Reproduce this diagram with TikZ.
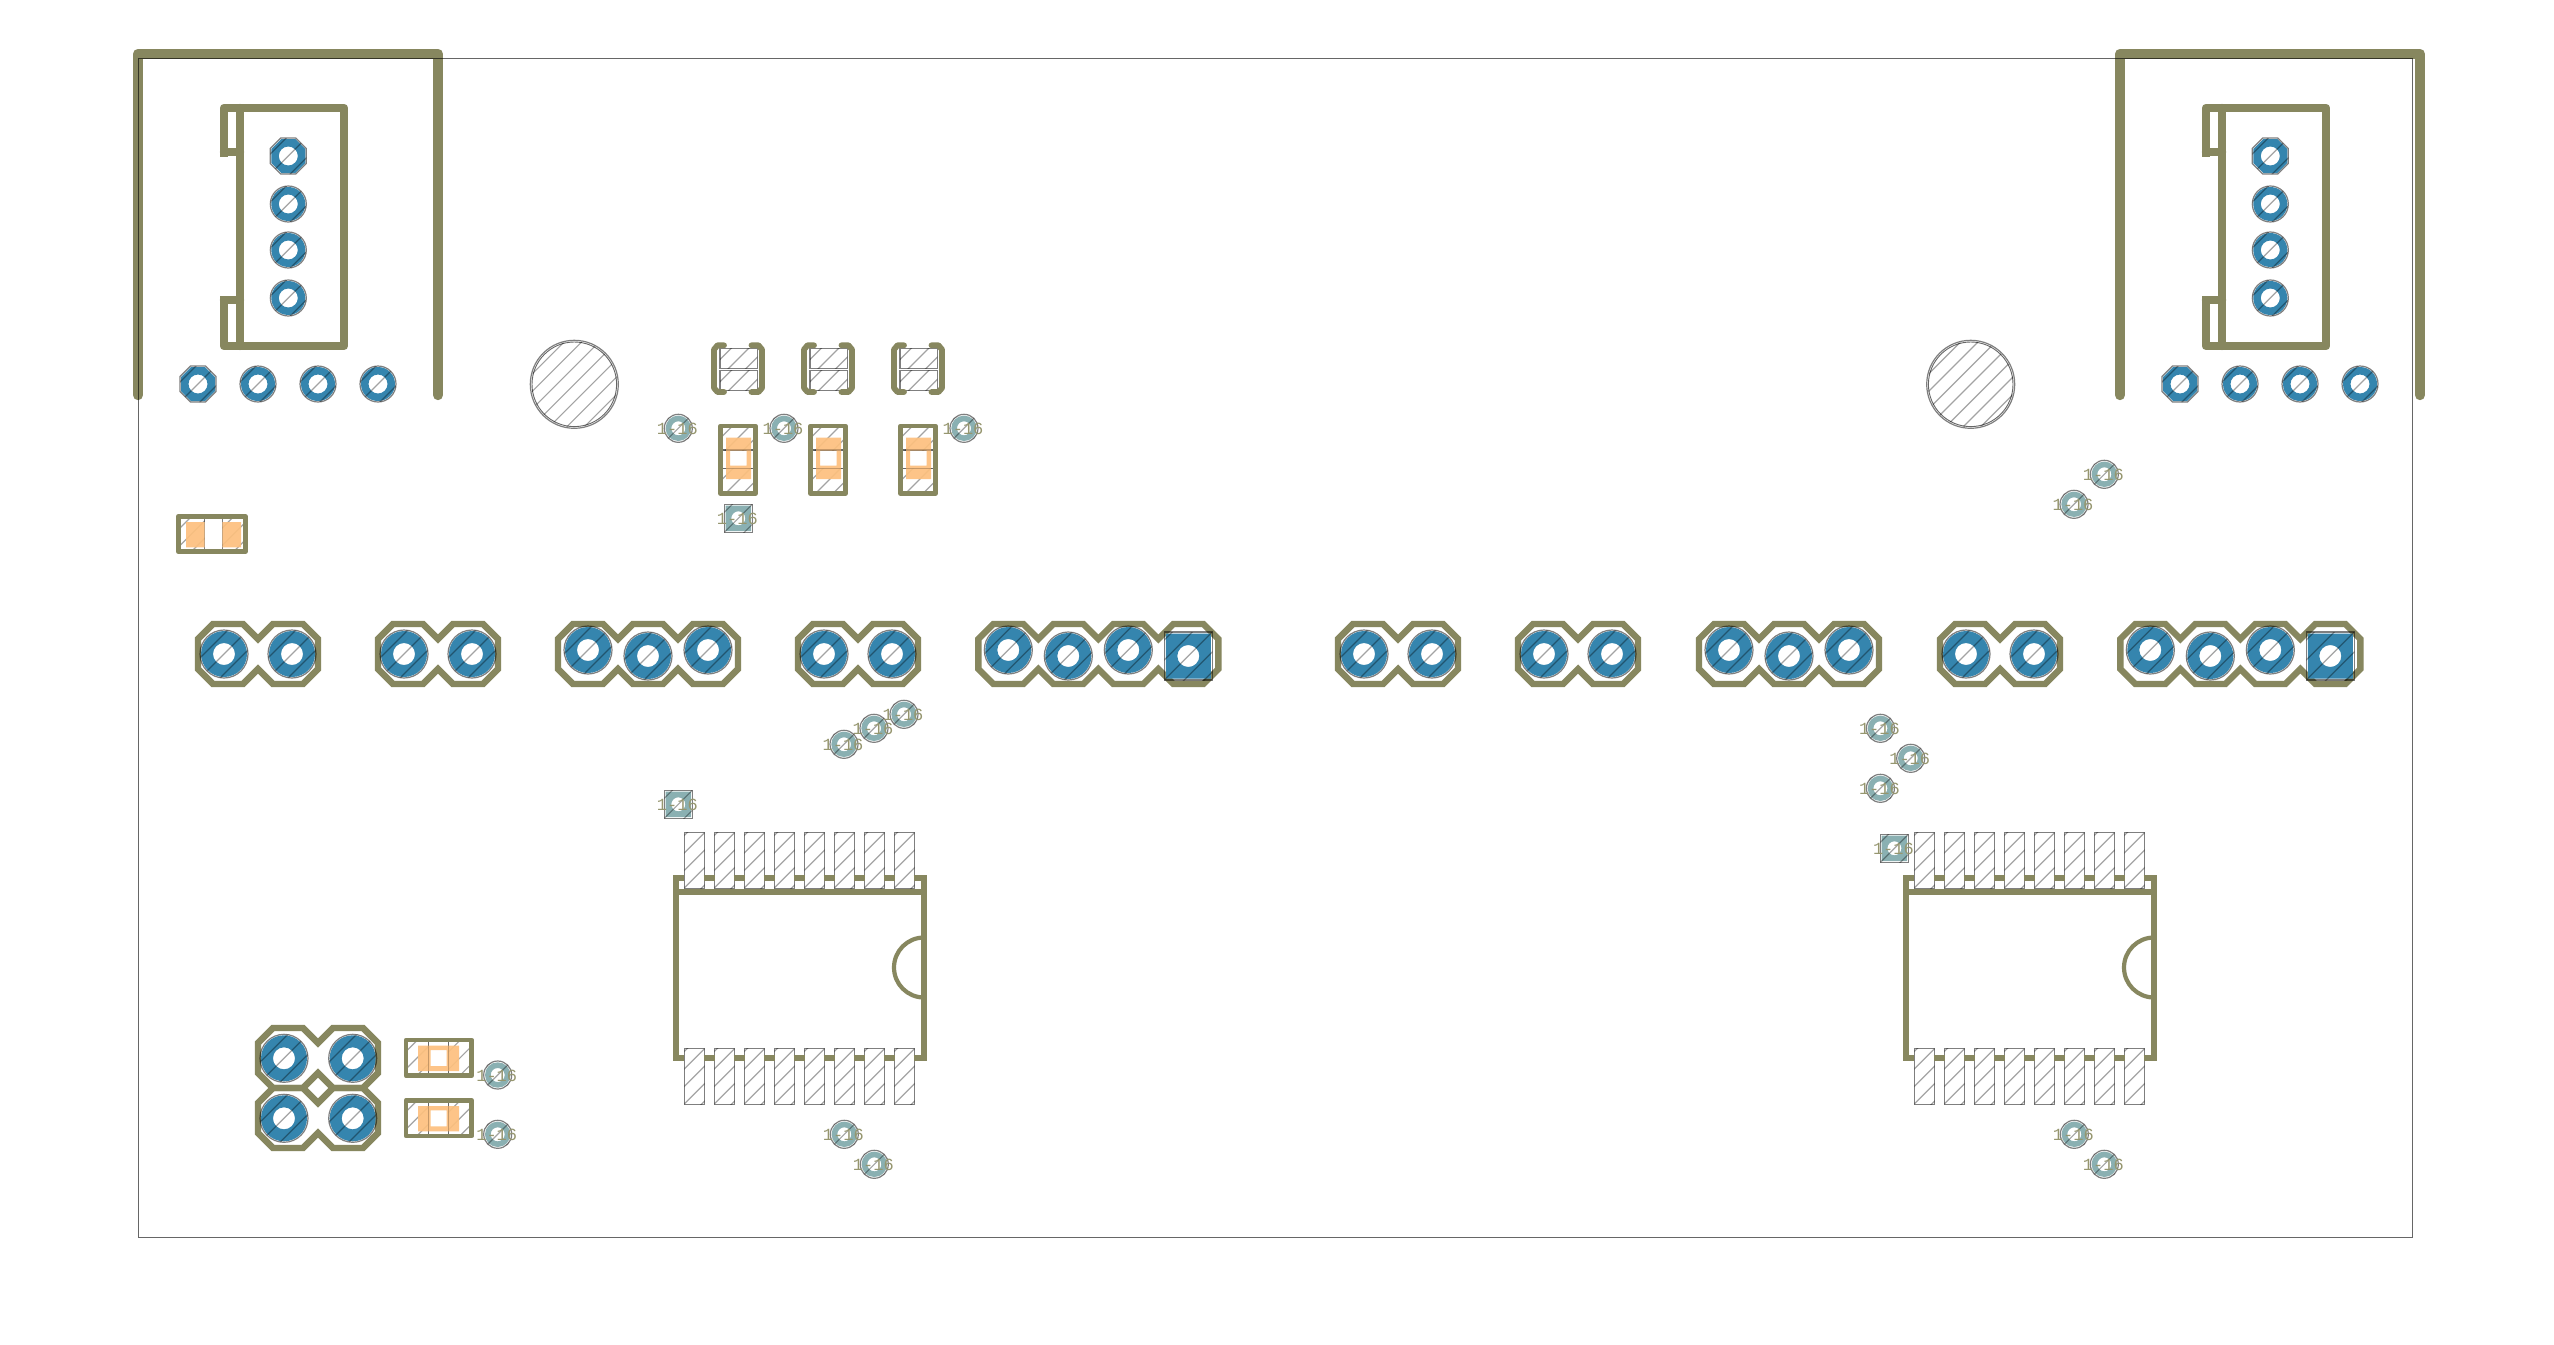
\documentclass[tikz,border=0pt]{standalone}
\usepackage{fontspec}
\newfontfamily\lblfont{Liberation Mono}
\definecolor{silk}{HTML}{87875F}
\definecolor{silktext}{HTML}{96966F}
\definecolor{padblue}{HTML}{3585AE}
\definecolor{viateal}{HTML}{8AB0B2}
\definecolor{smdorange}{HTML}{FDC07E}
\tikzset{
  silkline/.style={draw=silk,line width=#1,line cap=round,line join=round},
  silkline/.default=6,
  hatchline/.style={draw=black,draw opacity=.36,line width=1.2},
  padedge/.style={draw=black,draw opacity=.5,line width=1.2},
  boardedge/.style={draw=black,draw opacity=.6,line width=1.3},
  lbl/.style={inner sep=0pt,text=silktext,font=\lblfont\fontsize{17}{17}\selectfont}
}
\def\hs{20}
% hatch lines through a centre, N lines each side
\newcommand{\hatchat}[3]{%
  \foreach \k in {-#3,...,#3}{%
    \draw[hatchline] ({#1+\k*\hs-20*#3-20},{#2+20*#3+20}) -- ({#1+\k*\hs+20*#3+20},{#2-20*#3-20});
  }}
% round pad: x y grayR fillR holeR colour N
\newcommand{\roundpad}[7]{%
  \fill[#6,even odd rule] (#1,#2) circle[radius=#4] (#1,#2) circle[radius=#5];
  \begin{scope}\clip (#1,#2) circle[radius=#3]; \hatchat{#1}{#2}{#7}\end{scope}
  \draw[padedge] (#1,#2) circle[radius=#3];}
% square pad: x y grayHalf fillHalf holeR colour N
\newcommand{\squarepad}[7]{%
  \fill[#6,even odd rule] ({#1-#4},{#2-#4}) rectangle ({#1+#4},{#2+#4}) (#1,#2) circle[radius=#5];
  \begin{scope}\clip ({#1-#3},{#2-#3}) rectangle ({#1+#3},{#2+#3}); \hatchat{#1}{#2}{#7}\end{scope}
  \draw[padedge] ({#1-#3},{#2-#3}) rectangle ({#1+#3},{#2+#3});}
% octagonal connector pad
\newcommand{\octpad}[2]{%
  \fill[padblue,even odd rule] ({#1-17},{#2-7}) -- ({#1-7},{#2-17}) -- ({#1+7},{#2-17}) -- ({#1+17},{#2-7}) -- ({#1+17},{#2+7}) -- ({#1+7},{#2+17}) -- ({#1-7},{#2+17}) -- ({#1-17},{#2+7}) -- cycle (#1,#2) circle[radius=9.5];
  \begin{scope}\clip ({#1-18},{#2-7.5}) -- ({#1-7.5},{#2-18}) -- ({#1+7.5},{#2-18}) -- ({#1+18},{#2-7.5}) -- ({#1+18},{#2+7.5}) -- ({#1+7.5},{#2+18}) -- ({#1-7.5},{#2+18}) -- ({#1-18},{#2+7.5}) -- cycle; \hatchat{#1}{#2}{2}\end{scope}
  \draw[padedge] ({#1-18},{#2-7.5}) -- ({#1-7.5},{#2-18}) -- ({#1+7.5},{#2-18}) -- ({#1+18},{#2-7.5}) -- ({#1+18},{#2+7.5}) -- ({#1+7.5},{#2+18}) -- ({#1-7.5},{#2+18}) -- ({#1-18},{#2+7.5}) -- cycle;}
\newcommand{\cpad}[2]{\roundpad{#1}{#2}{18}{17}{9.5}{padblue}{2}}
\newcommand{\hpad}[2]{\roundpad{#1}{#2}{24}{23}{11}{padblue}{2}}
\newcommand{\hsq}[2]{\squarepad{#1}{#2}{24}{22.5}{11}{padblue}{3}}
% labelled vias: name x y
\newcommand{\via}[3]{\roundpad{#2}{#3}{14}{12.7}{7}{viateal}{1}\node[lbl] (#1) at ({#2-1},{#3+1}) {1-16};}
\newcommand{\sqvia}[3]{\squarepad{#2}{#3}{14}{12.7}{7}{viateal}{1}\node[lbl] (#1) at ({#2-1},{#3+1}) {1-16};}
% rectangle pad with hatch: x1 y1 x2 y2
\newcommand{\rectpad}[4]{%
  \begin{scope}\def\hs{17.5}\clip (#1,#2) rectangle (#3,#4); \hatchat{({#1+#3})/2}{({#2+#4})/2}{3}\end{scope}
  \draw[padedge] (#1,#2) rectangle (#3,#4);}
% header outline: left cy n
\newcommand{\hdr}[3]{%
  \draw[draw=silk,line width=6.4] (#1,{#2-15})
    foreach \i in {1,...,#3} { -- ({#1+60*\i-45},{#2-30}) -- ({#1+60*\i-15},{#2-30}) -- ({#1+60*\i},{#2-15}) }
    -- ({#1+60*#3},{#2+15})
    foreach \i in {#3,...,1} { -- ({#1+60*\i-15},{#2+30}) -- ({#1+60*\i-45},{#2+30}) -- ({#1+60*\i-60},{#2+15}) }
    -- cycle;}
% two-pin header: left cy
\newcommand{\twopin}[2]{\hdr{#1}{#2}{2}\hpad{#1+26}{#2}\hpad{#1+94}{#2}}
\newcommand{\threepin}[1]{\hdr{#1}{654}{3}\hpad{#1+30}{650}\hpad{#1+90}{656}\hpad{#1+150}{650}}
\newcommand{\fourpin}[1]{\hdr{#1}{654}{4}\hpad{#1+30}{650}\hpad{#1+90}{656}\hpad{#1+150}{650}\hsq{#1+210}{656}}
% JST connector: x offset
\newcommand{\jst}[1]{%
  \begin{scope}[shift={(#1,0)}]
  \draw[silkline=10.4] (138,395) -- (138,54) -- (438,54) -- (438,395);
  \draw[silkline=8.4] (224,108) rectangle (344,346);
  \draw[silkline=8.4] (240,108) -- (240,346);
  \draw[silkline=8.4] (240,152) -- (224,152);
  \draw[silkline=8.4] (240,300) -- (224,300);
  \draw[draw=white,line width=9] (224,156.5) -- (224,295.5);
  \octpad{288.3}{156}
  \cpad{288.3}{204}\cpad{288.3}{250}\cpad{288.3}{298}
  \octpad{198}{384}
  \cpad{258}{384}\cpad{318}{384}\cpad{378}{384}
  \end{scope}}
% SOIC: x offset
\newcommand{\soic}[1]{%
  \begin{scope}[shift={(#1,0)}]
  \foreach \p in {0,...,7}{%
    \rectpad{684.3+30*\p}{832.3}{704.7+30*\p}{888.3}
    \rectpad{684.3+30*\p}{1048.3}{704.7+30*\p}{1104.3}
  }
  \draw[draw=silk,line width=5.8] (676,875.1) -- (676,1060.9);
  \draw[draw=silk,line width=5.8] (924,875.1) -- (924,1060.9);
  \draw[draw=silk,line width=6] (673.1,891.7) -- (926.9,891.7);
  \draw[draw=silk,line width=5.8] (673.1,878) -- (684.3,878);
  \draw[draw=silk,line width=5.8] (913.5,878) -- (926.9,878);
  \draw[draw=silk,line width=5.8] (673.1,1058) -- (684.3,1058);
  \draw[draw=silk,line width=5.8] (913.5,1058) -- (926.9,1058);
  \foreach \p in {0,...,6}{%
    \draw[draw=silk,line width=5.8] ({703.5+30*\p},878) -- ({715+30*\p},878);
    \draw[draw=silk,line width=5.8] ({703.5+30*\p},1058) -- ({715+30*\p},1058);
  }
  \draw[draw=silk,line width=4.2] (924,937.5) arc[start angle=-90,end angle=-270,radius=30];
  \end{scope}}
% upright capacitor: x offset
\newcommand{\capv}[1]{%
  \begin{scope}[shift={(#1,0)}]
  \rectpad{720}{348.3}{757.3}{368.3}
  \rectpad{720}{370.7}{757.3}{390.3}
  \draw[silkline=5.8] (724,345.3) -- (717.5,345.3) -- (714,349.5) -- (714,388) -- (717.5,392) -- (724,392);
  \draw[silkline=5.8] (751.5,345.3) -- (758.5,345.3) -- (762,349.5) -- (762,388) -- (758.5,392) -- (751.5,392);
  \end{scope}}
% upright resistor: x offset
\newcommand{\resv}[1]{%
  \begin{scope}[shift={(#1,0)}]
  \rectpad{720.5}{426}{755.5}{450}
  \rectpad{720.5}{468.3}{755.5}{493.7}
  \fill[smdorange,fill opacity=.92,even odd rule] (726,437.7) rectangle (751,479) (730,450.7) rectangle (746.7,465.7);
  \draw[draw=black,draw opacity=.18,line width=1.2] (720.5,450) -- (755.5,450) (720.5,468.3) -- (755.5,468.3);
  \draw[silkline=4.6] (720.5,426) rectangle (755.5,493.7);
  \end{scope}}
% lying resistor: y offset
\newcommand{\resh}[1]{%
  \begin{scope}[shift={(0,#1)}]
  \rectpad{406}{1040}{428.3}{1075.7}
  \rectpad{448.3}{1040}{471.7}{1075.7}
  \fill[smdorange,fill opacity=.92,even odd rule] (418,1045.7) rectangle (459,1071) (430.7,1050) rectangle (446.7,1066);
  \draw[draw=black,draw opacity=.18,line width=1.2] (428.3,1040) -- (428.3,1075.7) (448.3,1040) -- (448.3,1075.7);
  \draw[silkline=4.6] (406,1040) rectangle (471.7,1075.7);
  \end{scope}}
\newcommand{\mount}[2]{%
  \begin{scope}\def\hs{17.5}\clip (#1,#2) circle[radius=43]; \hatchat{#1}{#2}{4}\end{scope}
  \draw[padedge] (#1,#2) circle[radius=44];
  \draw[draw=black,draw opacity=.6,line width=.9] (#1,#2) circle[radius=42.3];}
\begin{document}
\begin{tikzpicture}[x=1pt,y=-1pt]
\useasboundingbox (0,0) rectangle (2554,1344);
\fill[white] (0,0) rectangle (2554,1344);
\jst{0}
\jst{1982}
\mount{574.3}{384.3}
\mount{1970.7}{384.3}
\capv{0}\capv{90}\capv{180}
\resv{0}\resv{90}\resv{180}
% left lying resistor
\rectpad{178.3}{516.3}{204.7}{551.7}
\rectpad{222.3}{516.3}{245.3}{551.7}
\fill[smdorange,fill opacity=.92] (186,522) rectangle (204.7,547.3) (222.3,522) rectangle (241,547.3);
\draw[silkline=4.6] (178.3,516.3) rectangle (245.3,551.7);
% header row
\twopin{198}{654}
\twopin{378}{654}
\threepin{558}
\twopin{798}{654}
\fourpin{978.3}
\twopin{1338}{654}
\twopin{1518}{654}
\threepin{1699}
\twopin{1940}{654}
\fourpin{2120.3}
% ICs
\soic{0}
\soic{1230}
% 2x2 header
\hdr{258}{1058}{2}
\hdr{258}{1118}{2}
\hpad{284}{1058.3}\hpad{352.7}{1058.3}\hpad{284}{1118.3}\hpad{352.7}{1118.3}
\resh{0}
\resh{60.3}
% vias
\via{v1}{678.3}{428.3}
\via{v2}{784}{428.3}
\via{v3}{964}{428.3}
\sqvia{v4}{738.3}{518.3}
\sqvia{v5}{678.3}{804.3}
\via{v6}{844.3}{1134.3}
\via{v7}{874.3}{1164.3}
\via{v8}{497.7}{1075}
\via{v9}{497.7}{1134.3}
\via{v10}{844}{744.3}
\via{v11}{874}{728.3}
\via{v12}{904}{714.3}
\via{v13}{2104.3}{474.3}
\via{v14}{2074}{504.3}
\via{v15}{1880.4}{728.3}
\via{v16}{1910.7}{758.3}
\via{v17}{1880.4}{788.3}
\sqvia{v18}{1894.4}{848.3}
\via{v19}{2074.3}{1134.3}
\via{v20}{2104.3}{1164.3}
% board edge
\draw[boardedge] (138.5,58.3) rectangle (2412.6,1237.6);
\end{tikzpicture}
\end{document}
